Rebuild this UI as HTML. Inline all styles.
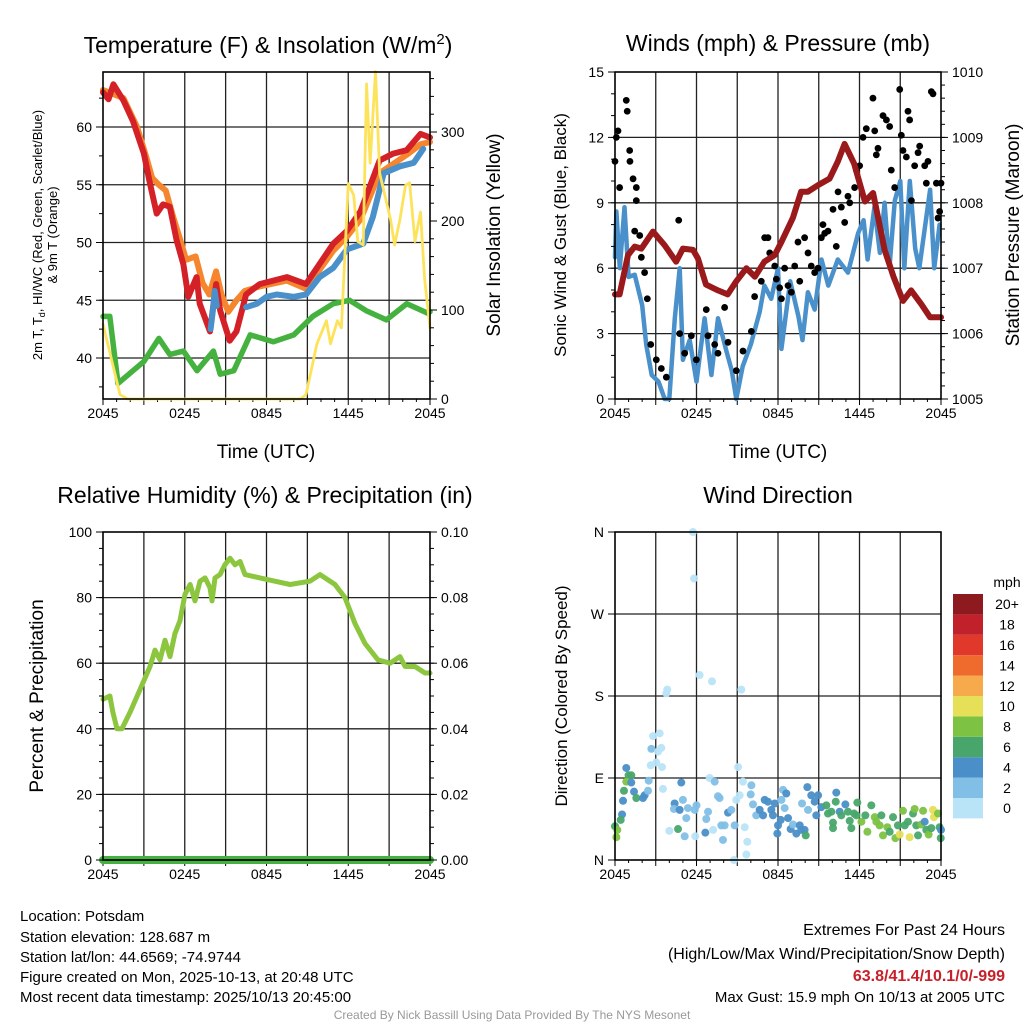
<!DOCTYPE html>
<html><head><meta charset="utf-8"><style>
html,body{margin:0;padding:0;background:#fff;}
svg{display:block;font-family:"Liberation Sans",Arial,sans-serif;}
</style></head><body>
<svg id="chart" width="1024" height="1024" viewBox="0 0 1024 1024" xmlns="http://www.w3.org/2000/svg">
<rect width="1024" height="1024" fill="#fff"/>
<g id="layer"></g>
<text x="268" y="53" font-size="23" text-anchor="middle">Temperature (F) &amp; Insolation (W/m<tspan dy="-9" font-size="15">2</tspan><tspan dy="9">)</tspan></text>
<text x="778" y="45" font-size="23" text-anchor="middle" dominant-baseline="middle">Winds (mph) &amp; Pressure (mb)</text>
<text x="265" y="497" font-size="23" text-anchor="middle" dominant-baseline="middle">Relative Humidity (%) &amp; Precipitation (in)</text>
<text x="778" y="497" font-size="23" text-anchor="middle" dominant-baseline="middle">Wind Direction</text>
<text transform="translate(42,235) rotate(-90)" font-size="13" text-anchor="middle">2m T, T<tspan dy="3" font-size="9">d</tspan><tspan dy="-3">, HI/WC (Red, Green, Scarlet/Blue)</tspan></text>
<text transform="translate(57,235) rotate(-90)" font-size="13" text-anchor="middle">&amp; 9m T (Orange)</text>
<text transform="translate(500,235) rotate(-90)" font-size="19" text-anchor="middle">Solar Insolation (Yellow)</text>
<text x="266" y="458" font-size="19" text-anchor="middle">Time (UTC)</text>
<text transform="translate(566,235) rotate(-90)" font-size="17" text-anchor="middle">Sonic Wind &amp; Gust (Blue, Black)</text>
<text transform="translate(1019,235) rotate(-90)" font-size="19" text-anchor="middle">Station Pressure (Maroon)</text>
<text x="778" y="458" font-size="19" text-anchor="middle">Time (UTC)</text>
<text transform="translate(43,696) rotate(-90)" font-size="19" text-anchor="middle">Percent &amp; Precipitation</text>
<text transform="translate(567,696) rotate(-90)" font-size="17" text-anchor="middle">Direction (Colored By Speed)</text>
<g font-size="15">
<text x="20" y="921">Location: Potsdam</text>
<text x="20" y="942">Station elevation: 128.687 m</text>
<text x="20" y="962">Station lat/lon: 44.6569; -74.9744</text>
<text x="20" y="982">Figure created on Mon, 2025-10-13, at 20:48 UTC</text>
<text x="20" y="1002">Most recent data timestamp: 2025/10/13 20:45:00</text>
</g>
<g text-anchor="end">
<text x="1005" y="935" font-size="16">Extremes For Past 24 Hours</text>
<text x="1005" y="959" font-size="16">(High/Low/Max Wind/Precipitation/Snow Depth)</text>
<text x="1005" y="981" font-size="16" font-weight="bold" fill="#c8202a">63.8/41.4/10.1/0/-999</text>
<text x="1005" y="1002" font-size="15">Max Gust: 15.9 mph On 10/13 at 2005 UTC</text>
</g>
<text x="512" y="1019" font-size="12" fill="#999" text-anchor="middle">Created By Nick Bassill Using Data Provided By The NYS Mesonet</text>
</svg>
<script>
// ---------- data ----------
const timeTickLabels = ["2045","0245","0845","1445","2045"];
const tempTicks = [40,45,50,55,60];
const solarTicks = [0,100,200,300];
const windTicks = [0,3,6,9,12,15];
const presTicks = [1005,1006,1007,1008,1009,1010];
const rhTicks = [0,20,40,60,80,100];
const precipTickLabels = ["0.00","0.02","0.04","0.06","0.08","0.10"];
const dirTickLabels = ["N","E","S","W","N"];
const speedBinLabels = ["0","2","4","6","8","10","12","14","16","18","20+"];
const speedBinColors = ["#b9e4f8","#82bfe6","#4a8fc8","#48a66c","#7dc243","#e6df58","#f7aa4c","#ef6b2d","#e0392b","#c1212a","#8c1a1e"];

const redT = [0,0.4,0.76,1.5,2.2,3.0,3.45,3.94,4.4,4.9,5.4,5.9,6.26,6.87,7.1,7.85,8.3,8.6,9.3,9.8,10.5,11.5,13.5,14.9,16.9,17.9,18.9,20.3,21.3,22.3,23.3,24];
const redV = [63.0,62.4,63.7,62.3,60.5,57.7,55.1,52.5,53.3,53.1,50.2,48.1,45.3,47.0,44.7,42.3,46.4,44.1,41.5,42.3,45.5,46.4,47.0,46.4,49.9,51.0,52.7,57.1,57.7,58.0,59.4,59.1];
const orangeT = [0,1.5,2.5,3.2,3.6,4.1,4.6,5.2,5.6,6.1,6.8,7.3,7.8,8.3,8.7,9.2,9.8,10.4,11.5,13.5,14.9,16.9,17.9,18.9,20.3,21.3,22.3,23.3,24];
const orangeV = [63.2,62.5,60.0,57.3,55.6,55.0,54.5,52.0,50.5,48.5,48.8,46.5,45.5,47.5,45.5,44.0,45.0,45.8,46.2,46.7,46.0,49.3,50.5,52.0,56.0,56.8,57.6,58.5,58.7];
const blueT = [7.9,8.05,8.2,8.35,null,10.5,11.3,12.0,12.75,14.0,14.9,15.9,16.9,17.9,19.1,19.8,20.6,21.8,22.8,23.5];
const blueV = [42.5,44.0,45.8,44.5,null,44.4,44.7,45.3,45.5,45.3,45.5,47.0,47.8,49.4,49.9,52.2,56.0,56.6,56.9,58.1];
const greenT = [0,0.5,1.1,2.2,3.0,4.1,4.9,5.9,6.9,8.1,8.6,9.6,10.8,12.5,14.0,15.4,16.9,18.1,19.3,20.8,22.3,23.8,24];
const greenV = [43.6,43.6,37.8,38.9,39.7,41.7,40.3,40.6,38.9,40.6,38.6,38.9,42.0,41.4,42.0,43.6,44.7,45.0,44.1,43.3,44.7,43.9,44.0];
const solarT = [0,1.25,1.8,14.5,14.9,15.7,16.4,16.7,17.2,17.5,18.0,18.4,18.7,19.1,19.35,19.6,20.0,20.3,21.1,21.4,21.8,22.2,22.5,22.9,23.3,23.6,24];
const solarV = [84,5,0,0,5,62,88,62,88,80,242,229,177,173,354,265,368,254,202,173,202,240,243,177,210,135,80];

const presT = [0,0.34,0.96,1.45,1.94,2.8,3.66,4.5,5.0,5.74,6.1,6.7,7.58,8.3,8.93,9.67,10.3,11.0,11.76,12.25,13.1,13.7,14.2,14.95,15.8,16.4,16.9,17.6,18.4,19.0,19.85,20.5,21.2,21.8,22.55,23.2,24];
const presV = [1006.6,1006.6,1007.2,1007.33,1007.3,1007.56,1007.35,1007.1,1007.3,1007.28,1007.15,1006.75,1006.66,1006.6,1006.8,1007.0,1006.87,1007.1,1007.2,1007.4,1007.77,1008.17,1008.17,1008.27,1008.37,1008.63,1008.9,1008.6,1008.02,1008.15,1007.28,1006.87,1006.5,1006.66,1006.45,1006.25,1006.25];
const windT = [0,0.1,0.35,0.7,1.0,1.45,2.0,2.3,2.7,3.2,3.66,4.0,4.4,4.76,5.0,5.5,6.0,6.6,7.1,7.58,8.2,8.6,8.93,9.4,10.0,10.65,11.0,11.5,12.0,12.25,12.9,13.5,13.8,14.2,14.7,15.2,15.7,16.4,17.15,17.9,18.3,18.6,19.1,19.5,19.85,20.2,20.6,21.0,21.3,21.7,22.1,22.4,22.8,23.2,23.5,23.9];
const windV = [6.5,8.6,6.0,8.8,5.6,5.7,4.3,2.5,1.1,0.8,0,0,3.7,6.0,1.8,2.7,0.8,3.7,1.1,3.7,2.2,1.3,0,1.5,2.5,4.0,5.2,4.6,6.0,2.3,5.4,3.8,2.7,4.9,4.1,6.4,5.2,6.4,5.8,7.6,8.2,6.4,8.8,6.7,9.0,6.0,9.1,10.0,6.0,10.0,6.9,6.0,7.8,9.6,6.0,8.0];
const gustT = [0,0.1,0.22,0.83,0.9,0.34,1.08,1.1,1.33,1.57,1.57,1.45,1.82,1.94,2.18,2.38,2.63,3.04,3.41,3.78,4.69,4.76,5.13,5.62,5.99,6.72,6.85,7.34,7.58,8.07,8.32,8.93,9.42,10.04,10.28,10.77,11.02,11.26,11.39,11.76,11.88,12.12,12.25,12.49,12.74,12.98,13.23,13.47,13.6,13.96,14.21,14.45,14.7,14.95,15.19,15.31,15.44,15.68,16.05,16.29,16.42,16.66,16.91,17.15,17.28,17.64,17.77,18.01,18.26,18.5,18.99,19.12,19.24,19.36,19.73,19.98,20.22,20.34,20.59,20.96,21.08,21.2,21.45,21.57,21.69,21.82,22.06,22.31,22.43,22.8,22.92,23.04,23.29,23.41,23.66,23.78,23.9,24.0];
const gustV = [10.9,12.0,12.3,13.7,13.2,9.7,11.4,10.9,10.1,9.7,9.1,7.7,7.5,6.5,5.8,4.6,2.5,1.8,1.4,1.0,8.2,3.0,2.1,2.9,1.8,4.1,2.9,2.5,2.1,4.2,2.6,1.3,2.2,3.1,4.7,5.4,7.4,7.4,6.7,6.1,5.5,5.1,4.6,6.0,5.2,4.9,6.1,7.2,5.4,7.4,6.7,6.1,5.8,6.0,7.4,8.0,7.6,7.7,8.7,7.0,9.5,8.8,8.1,9.3,9.0,9.7,10.5,10.7,12.0,12.4,13.8,12.3,11.2,11.5,13.0,12.8,12.5,10.5,9.7,14.2,12.1,11.4,11.1,13.2,12.8,9.1,10.7,11.3,11.6,10.7,9.9,10.9,14.1,14.0,9.9,8.3,8.6,9.9];

const rhT = [0,0.51,0.73,1.03,1.39,1.98,2.72,3.45,3.82,4.18,4.55,4.92,5.28,5.65,6.02,6.39,6.75,7.12,7.49,7.85,8.0,8.22,8.59,8.95,9.32,9.69,10.06,10.42,11.52,12.62,13.73,15.19,15.93,17.03,17.76,18.5,19.23,20.18,21.07,21.8,22.17,22.9,23.63,24];
const rhV = [49,50,45,40,40,45,52,59,64,61,67,62,69,73,81,84,79,85,86,83,79,86,87,90,92,90,91,87,86,85,84,85,87,84,80,72,66,61,60,62,59,59,57,57];
const precipT = [0,24];
const precipV = [0,0];

const dirT = [5.74,5.82,6.23,7.14,9.3,3.85,3.78,2.8,3.29,2.68,3.17,3.41,2.63,3.04,3.46,3.53,0.83,1.0,1.2,0.83,0.66,1.2,1.4,1.57,2.06,2.18,2.43,2.48,0.59,0.52,0.42,0,0.17,0.1,4.0,4.64,4.88,4.39,5.0,4.34,4.76,5.37,5.25,6.0,5.87,5.13,5.91,6.65,7.22,6.85,6.72,6.97,7.34,7.58,7.7,7.83,7.95,8.32,8.56,8.07,8.93,9.06,9.18,9.42,8.81,9.55,9.74,9.67,8.76,10.04,9.99,10.16,10.4,10.65,10.9,11.02,11.26,11.51,11.63,11.76,12.25,12.37,12.61,12.49,12.2,12.0,11.95,12.74,12.93,13.1,13.35,13.6,13.72,13.96,14.04,13.77,14.21,14.16,14.45,14.7,14.82,14.95,15.19,15.56,15.68,15.93,16.05,16.05,16.25,16.29,16.54,16.66,16.96,17.15,17.28,17.4,17.6,17.84,17.77,18.14,18.43,18.58,18.87,19.12,19.24,19.48,19.61,19.73,20.05,20.22,20.47,20.64,20.83,20.96,21.2,21.33,21.57,21.69,21.94,22.06,22.18,22.31,22.55,22.68,22.8,22.92,23.09,23.29,23.41,23.48,23.78,23.9,23.98,24];
const dirV = [360,309,203,196,187,187,183,136,139,122,119,123,104,107,102,78,101,93,93,86,76,85,75,68,68,71,76,87,65,50,44,37,33,25,32,34,85,62,66,56,55,57,46,60,55,26,26,30,33,53,45,90,86,70,68,38,22,52,55,38,66,102,71,86,38,36,20,6,0,82,72,61,49,55,49,66,64,55,49,62,66,77,73,57,44,38,29,46,34,39,29,38,33,33,27,62,55,80,71,64,49,71,58,60,51,53,41,35,64,74,53,49,61,53,43,35,51,63,49,42,49,31,60,47,42,38,49,27,36,31,47,24,38,28,54,38,42,25,51,56,38,27,39,54,42,33,28,35,55,47,51,36,24,33];
const dirSpd = [1,1,1,1,1,1,1,1,1,3,1,1,1,1,1,1,5,7,7,9,7,5,5,7,5,5,3,3,5,5,7,7,9,9,1,7,5,5,3,3,5,3,3,3,3,3,1,5,1,3,3,1,3,3,3,3,3,5,3,3,1,1,1,1,3,1,1,1,1,3,3,3,3,5,5,5,5,5,5,5,3,3,5,3,5,5,5,5,5,3,5,5,5,5,7,3,3,5,5,5,5,5,5,7,7,7,7,7,7,5,5,7,5,7,7,7,7,7,7,9,7,9,7,9,9,9,7,9,9,7,7,9,7,11,9,7,7,11,7,9,7,7,9,9,5,7,9,7,11,11,9,7,7,5];

// ---------- drawing ----------
const NS = "http://www.w3.org/2000/svg";
const layer = document.getElementById("layer");
function mk(tag, attrs, parent) {
  const e = document.createElementNS(NS, tag);
  for (const k in attrs) e.setAttribute(k, attrs[k]);
  (parent || layer).appendChild(e);
  return e;
}
function linScale(d0, d1, r0, r1) { return v => r0 + (v - d0) * (r1 - r0) / (d1 - d0); }

const P1 = {x:103, y:72, w:327, h:327};
const P2 = {x:615, y:72, w:326, h:327};
const P3 = {x:103, y:532, w:327, h:328};
const P4 = {x:615, y:532, w:326, h:328};

function timeAxis(P, g) {
  const sx = linScale(0, 24, P.x, P.x + P.w);
  for (let h = 3; h < 24; h += 3) {
    const l = mk("line", {x1:sx(h), x2:sx(h), y1:P.y, y2:P.y+P.h, stroke:"#222", "stroke-width":1.3}, g);
    
    
  }
  for (let h = 0; h <= 24; h += 1) {
    const len = (h % 3 === 0) ? 6 : 3;
    mk("line", {x1:sx(h), x2:sx(h), y1:P.y+P.h, y2:P.y+P.h+len, stroke:"#000", "stroke-width":1}, g);
  }
  timeTickLabels.forEach((lab, i) => {
    const t = mk("text", {x:sx(i*6), y:P.y+P.h+19, "font-size":14, "text-anchor":"middle"}, g);
    t.textContent = lab;
    
    
  });
  return sx;
}
function hGrid(P, g, ys) {
  ys.forEach(y => {
    if (y <= P.y + 1 || y >= P.y + P.h - 1) return;
    const l = mk("line", {x1:P.x, x2:P.x+P.w, y1:y, y2:y, stroke:"#222", "stroke-width":1.3}, g);
    
    
  });
}
function yTicks(P, g, sy, ticks, labels, side, minorStep, lo, hi) {
  const x0 = side === "left" ? P.x : P.x + P.w;
  const dir = side === "left" ? -1 : 1;
  if (minorStep) {
    for (let v = lo; v <= hi + 1e-9; v += minorStep) {
      const y = sy(v);
      if (y < P.y - 0.5 || y > P.y + P.h + 0.5) continue;
      mk("line", {x1:x0, x2:x0 + dir*4, y1:y, y2:y, stroke:"#000", "stroke-width":1}, g);
    }
  }
  ticks.forEach((v, i) => {
    const y = sy(v);
    mk("line", {x1:x0, x2:x0 + dir*7, y1:y, y2:y, stroke:"#000", "stroke-width":1}, g);
    const t = mk("text", {x:x0 + dir*11, y:y+5, "font-size":14, "text-anchor": side === "left" ? "end" : "start"}, g);
    t.textContent = labels[i];
    
    
  });
}
function frame(P, g) {
  const r = mk("rect", {x:P.x, y:P.y, width:P.w, height:P.h, fill:"none", stroke:"#000", "stroke-width":1.6}, g);
  
  
}
function linePath(ts, vs, sx, sy) {
  let d = "", pen = false;
  for (let i = 0; i < ts.length; i++) {
    if (ts[i] === null || vs[i] === null) { pen = false; continue; }
    d += (pen ? "L" : "M") + sx(ts[i]).toFixed(1) + "," + sy(vs[i]).toFixed(1);
    pen = true;
  }
  return d;
}
function series(g, name, ts, vs, sx, sy, color, width) {
  const p = mk("path", {d:linePath(ts, vs, sx, sy), fill:"none", stroke:color, "stroke-width":width, "stroke-linejoin":"round", "stroke-linecap":"round"}, g);
  
  
  return p;
}

(function(){
  const g = mk("g", {});
  
  
  const P = P1;
  const sx = timeAxis(P, g);
  const sy = linScale(40, 60, 358, 127);
  const sy2 = linScale(0, 300, P.y + P.h, 132);
  hGrid(P, g, tempTicks.map(sy));
  series(g, "dewpoint-line", greenT, greenV, sx, sy, "#45b23f", 5.5);
  series(g, "temp-9m-line", orangeT, orangeV, sx, sy, "#f5862e", 6);
  series(g, "temp-2m-line", redT, redV, sx, sy, "#d42027", 6);
  series(g, "heat-index-line", blueT, blueV, sx, sy, "#4a90cb", 6);
  series(g, "solar-insolation-line", solarT, solarV, sx, sy2, "#fde35c", 2.8);
  frame(P, g);
  yTicks(P, g, sy, tempTicks, tempTicks.map(String), "left", 2.5, 37.5, 65);
  yTicks(P, g, sy2, solarTicks, solarTicks.map(String), "right", 20, 0, 360);
})();

(function(){
  const g = mk("g", {});
  
  
  const P = P2;
  const sx = timeAxis(P, g);
  const sy = linScale(0, 15, P.y + P.h, P.y);
  const sy2 = linScale(1005, 1010, P.y + P.h, P.y);
  hGrid(P, g, windTicks.map(sy));
  series(g, "sonic-wind-line", windT, windV, sx, sy, "#4a90cb", 4.5);
  gustT.forEach((t, i) => {
    const c = mk("circle", {cx:sx(t), cy:sy(gustV[i]), r:3.4, fill:"#000"}, g);
    
    
  });
  series(g, "pressure-line", presT, presV, sx, sy2, "#9a1a1c", 6);
  frame(P, g);
  yTicks(P, g, sy, windTicks, windTicks.map(String), "left", 1, 0, 15);
  yTicks(P, g, sy2, presTicks, presTicks.map(String), "right", 0.2, 1005, 1010);
})();

(function(){
  const g = mk("g", {});
  
  
  const P = P3;
  const sx = timeAxis(P, g);
  const sy = linScale(0, 100, P.y + P.h, P.y);
  const sy2 = linScale(0, 0.1, P.y + P.h, P.y);
  hGrid(P, g, rhTicks.map(sy));
  series(g, "relative-humidity-line", rhT, rhV, sx, sy, "#8cc63f", 5);
  series(g, "precipitation-line", precipT, precipV, sx, sy2, "#45b23f", 8);
  mk("line", {x1:P.x, x2:P.x+P.w, y1:sy2(0), y2:sy2(0), stroke:"#2e7d32", "stroke-width":1.5}, g);
  frame(P, g);
  yTicks(P, g, sy, rhTicks, rhTicks.map(String), "left", 5, 0, 100);
  yTicks(P, g, sy2, [0,0.02,0.04,0.06,0.08,0.1], precipTickLabels, "right", 0.005, 0, 0.1);
})();

(function(){
  const g = mk("g", {});
  
  
  const P = P4;
  const sx = timeAxis(P, g);
  const sy = linScale(0, 360, P.y + P.h, P.y);
  hGrid(P, g, [0,90,180,270,360].map(sy));
  function binColor(s) { let b = Math.floor(s / 2); if (b > 10) b = 10; return speedBinColors[b]; }
  dirT.forEach((t, i) => {
    const c = mk("circle", {cx:sx(t), cy:sy(dirV[i]), r:4, fill:binColor(dirSpd[i]), "fill-opacity":0.95}, g);
    
    
  });
  frame(P, g);
  yTicks(P, g, sy, [0,90,180,270,360], dirTickLabels, "left", 0, 0, 0);
  const cb = mk("g", {});
  
  
  const bx = 953, bw = 30, top = 594, bh = 20.4, n = speedBinColors.length;
  for (let i = 0; i < n; i++) {
    const y = top + (n - 1 - i) * bh;
    const r = mk("rect", {x:bx, y:y, width:bw, height:bh, fill:speedBinColors[i]}, cb);
    
    
    const t = mk("text", {x:1007, y:y + bh/2 + 5, "font-size":14, "text-anchor":"middle"}, cb);
    t.textContent = speedBinLabels[i];
    
    
  }
  const u = mk("text", {x:1007, y:587, "font-size":14, "text-anchor":"middle"}, cb);
  u.textContent = "mph";
  
  
})();
</script>
</body></html>
